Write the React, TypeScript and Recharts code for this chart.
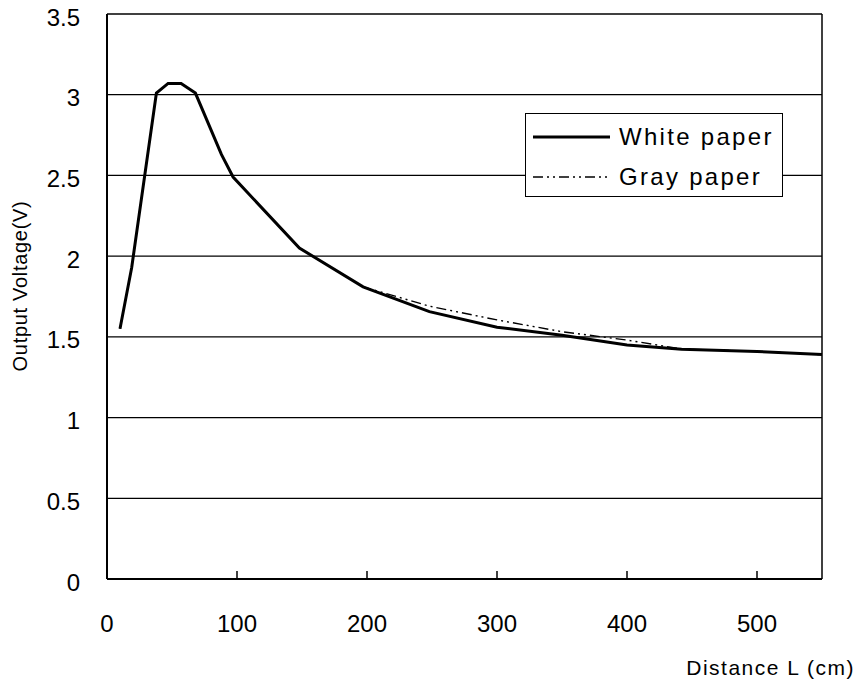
import React from "react";
import { CartesianGrid, Label, Legend, Line, LineChart, ReferenceLine, XAxis, YAxis } from "recharts";

// values
const distance = [10, 19, 38, 47, 57, 68, 88, 97, 148, 197, 248, 300, 350, 400, 442, 500, 550];
const whitePaper = [1.55, 1.93, 3.01, 3.07, 3.07, 3.01, 2.63, 2.49, 2.05, 1.81, 1.656, 1.56, 1.51, 1.45, 1.423, 1.41, 1.39];
const grayPaper = [1.55, 1.93, 3.01, 3.07, 3.07, 3.01, 2.63, 2.49, 2.05, 1.81, 1.69, 1.605, 1.532, 1.48, 1.425, 1.41, 1.39];
const xTicks = [0, 100, 200, 300, 400, 500];
const yTicks = [0, 0.5, 1, 1.5, 2, 2.5, 3, 3.5];

const data = distance.map((d, i) => ({ distance: d, white: whitePaper[i], gray: grayPaper[i] }));

const FONT = '"Liberation Sans", Arial, sans-serif';
const GRAY_DASH = "10 4 2 4 2 4";

function XTick({ x, y, payload }: any) {
  return (
    <text x={x} y={y} textAnchor="middle" dominantBaseline="central" fontSize={24} fontFamily={FONT} fill="#000">
      {payload.value}
    </text>
  );
}

function YTick({ x, y, payload }: any) {
  return (
    <text x={x} y={y + 3} textAnchor="end" dominantBaseline="central" fontSize={24} fontFamily={FONT} fill="#000">
      {payload.value}
    </text>
  );
}

function LegendBox() {
  const rows = [
    { name: "White paper", width: 3, dash: undefined },
    { name: "Gray paper", width: 1.4, dash: GRAY_DASH },
  ];
  return (
    <div
      style={{
        width: 258,
        height: 84,
        border: "1.5px solid #000",
        background: "#fff",
        boxSizing: "border-box",
        paddingTop: 3,
        fontFamily: FONT,
        fontSize: 24,
        letterSpacing: 2.3,
        color: "#000",
      }}
    >
      {rows.map((r) => (
        <div key={r.name} style={{ display: "flex", alignItems: "center", height: 40 }}>
          <svg width={77} height={10} style={{ marginLeft: 7 }}>
            <line x1={0} y1={5} x2={77} y2={5} stroke="#000" strokeWidth={r.width} strokeDasharray={r.dash} />
          </svg>
          <span style={{ marginLeft: 9, whiteSpace: "nowrap" }}>{r.name}</span>
        </div>
      ))}
    </div>
  );
}

export default function App() {
  return (
    <div style={{ position: "absolute", left: 0, top: 0, background: "#fff" }}>
      <LineChart width={864} height={679} data={data} margin={{ top: 14, right: 42, bottom: 30, left: 47 }}>
        <CartesianGrid vertical={false} stroke="#000" strokeWidth={1.3} />
        <XAxis
          type="number"
          dataKey="distance"
          domain={[0, 550]}
          ticks={xTicks}
          height={70}
          tickSize={-8}
          tickMargin={52}
          tickLine={{ stroke: "#000", strokeWidth: 1.5 }}
          axisLine={{ stroke: "#000", strokeWidth: 2 }}
          tick={<XTick />}
        >
          <Label
            content={() => (
              <text x={855} y={675} textAnchor="end" fontSize={21} letterSpacing={1.5} fontFamily={FONT} fill="#000">
                Distance L (cm)
              </text>
            )}
          />
        </XAxis>
        <YAxis
          type="number"
          domain={[0, 3.5]}
          ticks={yTicks}
          width={60}
          tickSize={0}
          tickMargin={27}
          tickLine={false}
          axisLine={{ stroke: "#000", strokeWidth: 2 }}
          tick={<YTick />}
        >
          <Label
            content={() => (
              <text
                x={20}
                y={286}
                transform="rotate(-90 20 286)"
                textAnchor="middle"
                dominantBaseline="central"
                fontSize={20}
                letterSpacing={0.7}
                fontFamily={FONT}
                fill="#000"
              >
                Output Voltage(V)
              </text>
            )}
          />
        </YAxis>
        <ReferenceLine x={550} stroke="#000" strokeWidth={1.5} />
        <Legend
          layout="vertical"
          align="center"
          verticalAlign="middle"
          wrapperStyle={{ left: 525, top: 113, width: 258, height: 84 }}
          content={() => <LegendBox />}
        />
        <Line
          type="linear"
          dataKey="white"
          name="White paper"
          stroke="#000"
          strokeWidth={3}
          dot={false}
          isAnimationActive={false}
        />
        <Line
          type="linear"
          dataKey="gray"
          name="Gray paper"
          stroke="#000"
          strokeWidth={1.4}
          strokeDasharray={GRAY_DASH}
          dot={false}
          isAnimationActive={false}
        />
      </LineChart>
    </div>
  );
}
